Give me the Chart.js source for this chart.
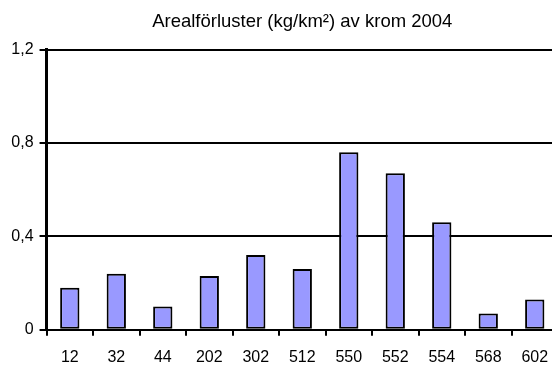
<!DOCTYPE html>
<html>
<head>
<meta charset="utf-8">
<script src="https://cdn.jsdelivr.net/npm/chart.js@4/dist/chart.umd.min.js"></script>
<style>
  html, body { margin: 0; padding: 0; background: #fff; overflow: hidden; }
  /* the plot runs a little past the right and bottom edge, as in the reference */
  #wrap { position: relative; width: 562px; height: 380px; }
</style>
</head>
<body>
<div id="wrap"><canvas id="kromChart"></canvas></div>
<script>
// Data
const categories = ['12', '32', '44', '202', '302', '512', '550', '552', '554', '568', '602'];
const arealforluster = [0.18, 0.24, 0.10, 0.23, 0.32, 0.26, 0.76, 0.67, 0.46, 0.07, 0.13];
const yTicks = [0, 0.4, 0.8, 1.2];

const fontFamily = "'Liberation Sans', Arial, sans-serif";

new Chart(document.getElementById('kromChart'), {
  type: 'bar',
  data: {
    labels: categories,
    datasets: [{
      label: 'Arealförluster',
      data: arealforluster,
      backgroundColor: '#9999FF',
      borderColor: '#000000',
      borderWidth: 2,
      borderSkipped: false,
      categoryPercentage: 1,
      barPercentage: 0.415
    }]
  },
  options: {
    responsive: true,
    maintainAspectRatio: false,
    animation: false,
    layout: {
      padding: { left: 5.3, right: 4, top: 0, bottom: 1 }
    },
    plugins: {
      legend: { display: false },
      tooltip: { enabled: false },
      title: {
        display: true,
        fullSize: false,
        text: 'Arealförluster (kg/km²) av krom 2004',
        color: '#000',
        font: { family: fontFamily, size: 18.5, weight: 'normal' },
        padding: { top: 11, bottom: 16.3 }
      }
    },
    scales: {
      x: {
        grid: {
          offset: true,
          drawOnChartArea: false,
          drawTicks: true,
          tickLength: 6,
          color: '#000',
          lineWidth: 2
        },
        border: { display: true, color: '#000', width: 2 },
        ticks: {
          color: '#000',
          padding: 12,
          maxRotation: 0,
          autoSkip: false,
          font: { family: fontFamily, size: 16 }
        }
      },
      y: {
        min: 0,
        max: 1.2,
        afterBuildTicks: function(axis) {
          axis.ticks = yTicks.map(v => ({ value: v }));
        },
        grid: {
          drawTicks: true,
          tickLength: 7,
          color: '#000',
          lineWidth: 2
        },
        border: { display: true, color: '#000', width: 3 },
        ticks: {
          color: '#000',
          padding: 6,
          font: { family: fontFamily, size: 16 },
          callback: function(value) {
            return String(Math.round(value * 10) / 10).replace('.', ',');
          }
        }
      }
    }
  }
});
</script>
</body>
</html>
